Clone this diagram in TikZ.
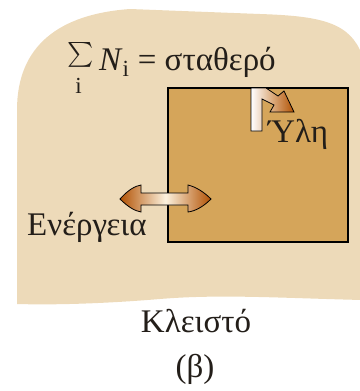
\documentclass[tikz,border=0pt]{standalone}
\usepackage{amsmath}
\usepackage{fontspec}
\setmainfont{Liberation Serif}
\usepackage{tikz}
\definecolor{sand}{RGB}{237,218,185}
\definecolor{boxfill}{RGB}{213,165,90}
\definecolor{arrdark}{RGB}{178,82,4}
\definecolor{arrlight}{RGB}{252,242,222}
\definecolor{ink}{RGB}{35,30,25}
\pgfdeclarehorizontalshading{twoway}{100bp}{color(0bp)=(arrdark); color(25bp)=(arrdark); color(50bp)=(arrlight); color(75bp)=(arrdark); color(100bp)=(arrdark)}

\begin{document}
\begin{tikzpicture}[x=1pt,y=-1pt,
    lbl/.style={text=ink,inner sep=0pt,font=\fontsize{33}{38}\selectfont},
    sysbox/.style={draw=black,line width=1.2pt,fill=boxfill,minimum width=180pt,minimum height=154pt,inner sep=0pt}]
  \useasboundingbox (0,0) rectangle (359,391);
  % surroundings
  \fill[sand] (17,304) -- (17,110) .. controls (17,45) and (60,14) .. (130,9)
    -- (260,14) .. controls (320,16) and (350,22) .. (362,55)
    -- (362,300) .. controls (280,298) and (220,294) .. (160,299)
    .. controls (100,304) and (50,305) .. (17,304) -- cycle;
  % closed system
  \node[sysbox] (sys) at (258,165) {};
  % matter arrow (blocked)
  \shade[left color=white,right color=arrdark,middle color=arrlight!55!arrdark,draw=black,line width=0.8pt]
    (251,131) -- (251,88) -- (266,88) -- (278,96) -- (284,91) -- (294,112)
    -- (270,112) -- (274,105) -- (262,99) -- (262,131) -- cycle;
  % energy arrow
  \shade[shading=twoway,draw=black,line width=0.8pt]
    (120,199) .. controls (128,190) and (135,186) .. (141,185) -- (141,193) -- (188,193)
    -- (188,185) .. controls (196,187) and (204,192) .. (211,199)
    .. controls (204,206) and (196,211) .. (188,212) -- (188,205) -- (141,205)
    -- (141,212) .. controls (135,211) and (128,207) .. (120,199) -- cycle;
  \node[lbl,font=\fontsize{31}{33}\selectfont] (sigma) at (80.5,55) {$\sum$};
  \node[lbl,anchor=base,font=\fontsize{23}{25}\selectfont] (idx) at (78.5,93) {i};
  \node[lbl,anchor=base west] (sum) at (99,70) {\textit{N}\textsubscript{i} = σταθερό};
  \node[lbl,anchor=base west] (matter) at (268,142) {Ύλη};
  \node[lbl,anchor=base west] (energy) at (27,235) {Ενέργεια};
  \node[lbl,anchor=base] (closed) at (196,332) {Κλειστό};
  \node[lbl,anchor=base] (tag) at (195,377) {(β)};
\end{tikzpicture}
\end{document}
